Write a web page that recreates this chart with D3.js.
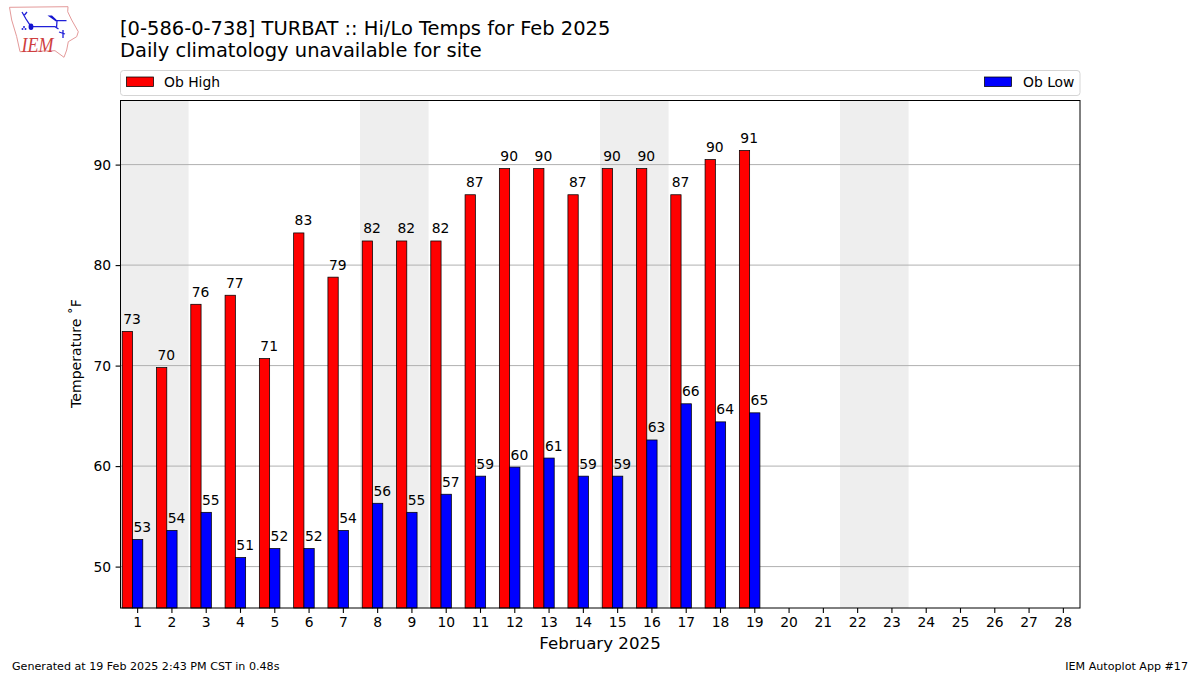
<!DOCTYPE html>
<html><head><meta charset="utf-8">
<script src="https://cdn.jsdelivr.net/npm/d3@7/dist/d3.min.js"></script>
<style>html,body{margin:0;padding:0;background:#fff}svg{display:block}text{font-family:"DejaVu Sans",sans-serif;fill:#000}</style>
</head><body><svg id="c" width="1200" height="675"></svg>
<script>
const days = d3.range(1, 29);
const highs = [73.4,69.8,76.1,77,70.7,83.2,78.8,82.4,82.4,82.4,87,89.6,89.6,87,89.6,89.6,87,90.5,91.4];
const lows = [52.7,53.6,55.4,50.9,51.8,51.8,53.6,56.3,55.4,57.2,59,59.9,60.8,59,59,62.6,66.2,64.4,65.3];
const highLabels = [73,70,76,77,71,83,79,82,82,82,87,90,90,87,90,90,87,90,91];
const lowLabels = [53,54,55,51,52,52,54,56,55,57,59,60,61,59,59,63,66,64,65];
const weekendStarts = [1,8,15,22];
const yTicks = [50,60,70,80,90];
const titleLines = ["[0-586-0-738] TURBAT :: Hi/Lo Temps for Feb 2025","Daily climatology unavailable for site"];

const svg = d3.select("#c");
const L=120.5,R=1080,T=100.5,B=608;
const x = d3.scaleLinear().domain([0.5,28.5]).range([120,1080]);
const y = d3.scaleLinear().domain([50,90]).range([566.6,164.6]);
const plot = svg.append("g");
plot.selectAll(".wk").data(weekendStarts).join("rect")
 .attr("x",d=>x(d-0.5)).attr("width",d=>x(d+1.5)-x(d-0.5)).attr("y",T).attr("height",B-T).attr("fill","#eeeeee");
plot.selectAll(".gl").data(yTicks).join("line")
 .attr("x1",L).attr("x2",R).attr("y1",d=>y(d)).attr("y2",d=>y(d)).attr("stroke","#b0b0b0").attr("stroke-width",1);
function bars(vals,labels,off,color){
  const g=plot.append("g");
  g.selectAll("rect").data(vals).join("rect")
   .attr("x",(d,i)=>x(i+1+off)+0.5).attr("width",x(1.3)-x(1))
   .attr("y",d=>y(d)).attr("height",d=>B-y(d))
   .attr("fill",color).attr("stroke","#000").attr("stroke-width",0.75);
  g.selectAll("text").data(labels).join("text")
   .attr("x",(d,i)=>x(i+1+off+0.3)).attr("y",(d,i)=>y(vals[i])-7.5)
   .attr("text-anchor","middle").attr("font-size",13.89).text(d=>d);
}
bars(highs,highLabels,-0.45,"#ff0000");
bars(lows,lowLabels,-0.15,"#0000ff");
svg.append("rect").attr("x",L).attr("y",T).attr("width",R-L).attr("height",B-T).attr("fill","none").attr("stroke","#000").attr("stroke-width",1);

const ax=svg.append("g");
ax.append("g").attr("transform",`translate(0,${B})`)
 .call(d3.axisBottom(x).tickValues(days).tickFormat(d3.format("d")).tickSize(4.9).tickSizeOuter(0).tickPadding(4))
 .call(g=>{g.select(".domain").remove();g.selectAll("text").attr("font-size",13.89).attr("font-family","DejaVu Sans");g.selectAll("line").attr("stroke-width",1.1)});
ax.append("g").attr("transform",`translate(${L},0)`)
 .call(d3.axisLeft(y).tickValues(yTicks).tickSize(4.9).tickSizeOuter(0).tickPadding(4.5))
 .call(g=>{g.select(".domain").remove();g.selectAll("text").attr("font-size",13.89).attr("font-family","DejaVu Sans");g.selectAll("line").attr("stroke-width",1.1)});
svg.append("text").attr("transform","translate(81,353.5) rotate(-90)").attr("text-anchor","middle").attr("font-size",14.1).text("Temperature \u02DAF");
svg.append("text").attr("x",600).attr("y",649).attr("text-anchor","middle").attr("font-size",16.67).text("February 2025");
svg.selectAll(".tt").data(titleLines).join("text").attr("x",120).attr("y",(d,i)=>35+i*22).attr("font-size",19.48).text(d=>d);
svg.append("text").attr("x",12).attr("y",670).attr("font-size",11.11).text("Generated at 19 Feb 2025 2:43 PM CST in 0.48s");
svg.append("text").attr("x",1188).attr("y",670).attr("text-anchor","end").attr("font-size",11.11).text("IEM Autoplot App #17");

// legend
svg.append("rect").attr("x",120.5).attr("y",70.5).attr("width",959.5).attr("height",25).attr("rx",3).attr("fill","#fff").attr("stroke","#d5d5d5");
const legend=[["Ob High","#ff0000",126.5,164],["Ob Low","#0000ff",984.5,1023]];
legend.forEach(([t,c,bx,tx])=>{
 svg.append("rect").attr("x",bx).attr("y",77).attr("width",27).attr("height",9.5).attr("fill",c).attr("stroke","#000").attr("stroke-width",0.75);
 svg.append("text").attr("x",tx).attr("y",86.5).attr("font-size",13.89).text(t);
});

// logo
const logo=svg.append("g");
logo.append("path").attr("d","M9.5 7.3 L68 6.7 L67.7 11.7 L71.7 20 L78.3 31.7 L76.7 36.7 L68.3 41.7 L66.7 50 L64 57.3 L55 50.7 L20 51.7 L16.7 36.7 L11.7 20 Z").attr("fill","none").attr("stroke","#e49a9a").attr("stroke-width",1);
logo.append("path").attr("d","M31 26.7 L55 26.7 L58.5 29 M57 20.7 L66.5 20.7 M57 20.7 L56.5 28 M22 12 L26 19 L31 26.7 M24.5 15 L27 12 M63 30 L63 38 M59 32 L65 34").attr("fill","none").attr("stroke","#2020d8").attr("stroke-width",1.3);
logo.append("ellipse").attr("cx",31).attr("cy",26.7).attr("rx",2.4).attr("ry",3.2).attr("fill","#1414d0");
logo.append("path").attr("d","M47.5 15.5 L52 15.5 L57.5 20.7 L56 21.5 Z").attr("fill","#1414d0");
logo.selectAll(".dot").data([[24,27],[22.5,29],[25.5,29]]).join("circle").attr("cx",d=>d[0]).attr("cy",d=>d[1]).attr("r",1).attr("fill","#2020d8");
logo.append("text").attr("x",21.5).attr("y",52).attr("font-family","Liberation Serif").attr("font-style","italic").attr("font-size",20).attr("textLength",32).attr("lengthAdjust","spacingAndGlyphs").style("font-family","Liberation Serif").style("fill","#cf3f3f").text("IEM");
</script></body></html>
